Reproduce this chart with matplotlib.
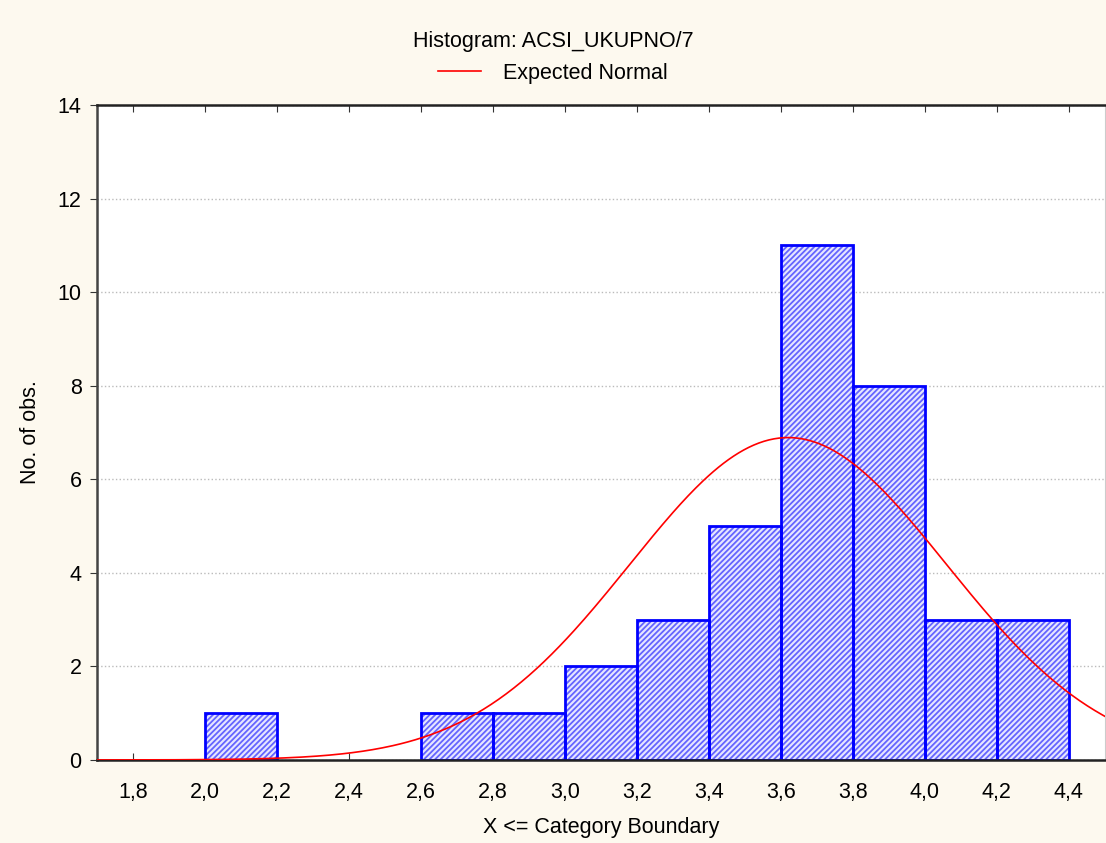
import numpy as np
import matplotlib.pyplot as plt

plt.rcParams['font.family'] = ['Liberation Sans', 'DejaVu Sans']
plt.rcParams['hatch.linewidth'] = 1.3

# histogram bins (left edges) and counts
bin_left = [2.0, 2.6, 2.8, 3.0, 3.2, 3.4, 3.6, 3.8, 4.0, 4.2]
counts = [1, 1, 1, 2, 3, 5, 11, 8, 3, 3]
bin_width = 0.2

# expected normal parameters
mean_val = 3.62
sd_val = 0.44
n_obs = 38

xticks = [1.8, 2.0, 2.2, 2.4, 2.6, 2.8, 3.0, 3.2, 3.4, 3.6, 3.8, 4.0, 4.2, 4.4]
yticks = [0, 2, 4, 6, 8, 10, 12, 14]

fs = 15.5

fig = plt.figure(figsize=(11.06, 8.43), dpi=100)
fig.patch.set_facecolor('#fdf9ef')
ax = fig.add_axes([0.0877, 0.0985, 0.9113, 0.777])
ax.set_facecolor('white')

# hatched fill (hatch takes the edge colour), then the blue outline on top
ax.bar(bin_left, counts, width=bin_width, align='edge', facecolor='#e6e6ff',
       edgecolor='#6464ff', linewidth=0, hatch='//////', zorder=2)
ax.bar(bin_left, counts, width=bin_width, align='edge', fill=False,
       edgecolor='#0000ff', linewidth=2, zorder=2.5)

xs = np.linspace(1.7, 4.5, 400)
ys = n_obs * bin_width / (sd_val * np.sqrt(2 * np.pi)) * np.exp(-0.5 * ((xs - mean_val) / sd_val) ** 2)
ax.plot(xs, ys, color='red', linewidth=1.2, zorder=3, label='Expected Normal')

ax.set_xlim(1.7, 4.5)
ax.set_ylim(0, 14)
ax.set_xticks(xticks)
ax.set_xticklabels([f'{v:.1f}'.replace('.', ',') for v in xticks], fontsize=fs)
ax.set_yticks(yticks)
ax.set_yticklabels([str(v) for v in yticks], fontsize=fs)
ax.tick_params(axis='x', direction='in', length=5, color='#333333', pad=16, top=True)
ax.tick_params(axis='y', direction='out', length=5, color='#333333', pad=6)
ax.yaxis.grid(True, linestyle=':', color='#bbbbbb', linewidth=1)
ax.set_axisbelow(True)
ax.spines['left'].set_color('#444444')
ax.spines['left'].set_linewidth(1.8)
ax.spines['bottom'].set_color('#222222')
ax.spines['bottom'].set_linewidth(1.8)
ax.spines['top'].set_color('#222222')
ax.spines['top'].set_linewidth(1.8)
ax.spines['right'].set_color('#cccccc')

ax.set_xlabel('X <= Category Boundary', fontsize=fs, labelpad=10)
ax.set_ylabel('No. of obs.', fontsize=fs, labelpad=12)

fig.text(0.5, 0.951, 'Histogram: ACSI_UKUPNO/7', ha='center', va='center', fontsize=fs)
fig.legend(loc='center', bbox_to_anchor=(0.5, 0.913), frameon=False, fontsize=fs,
           handlelength=2.0, handletextpad=1.0)

fig.savefig('out.png', dpi=100, facecolor=fig.get_facecolor())
